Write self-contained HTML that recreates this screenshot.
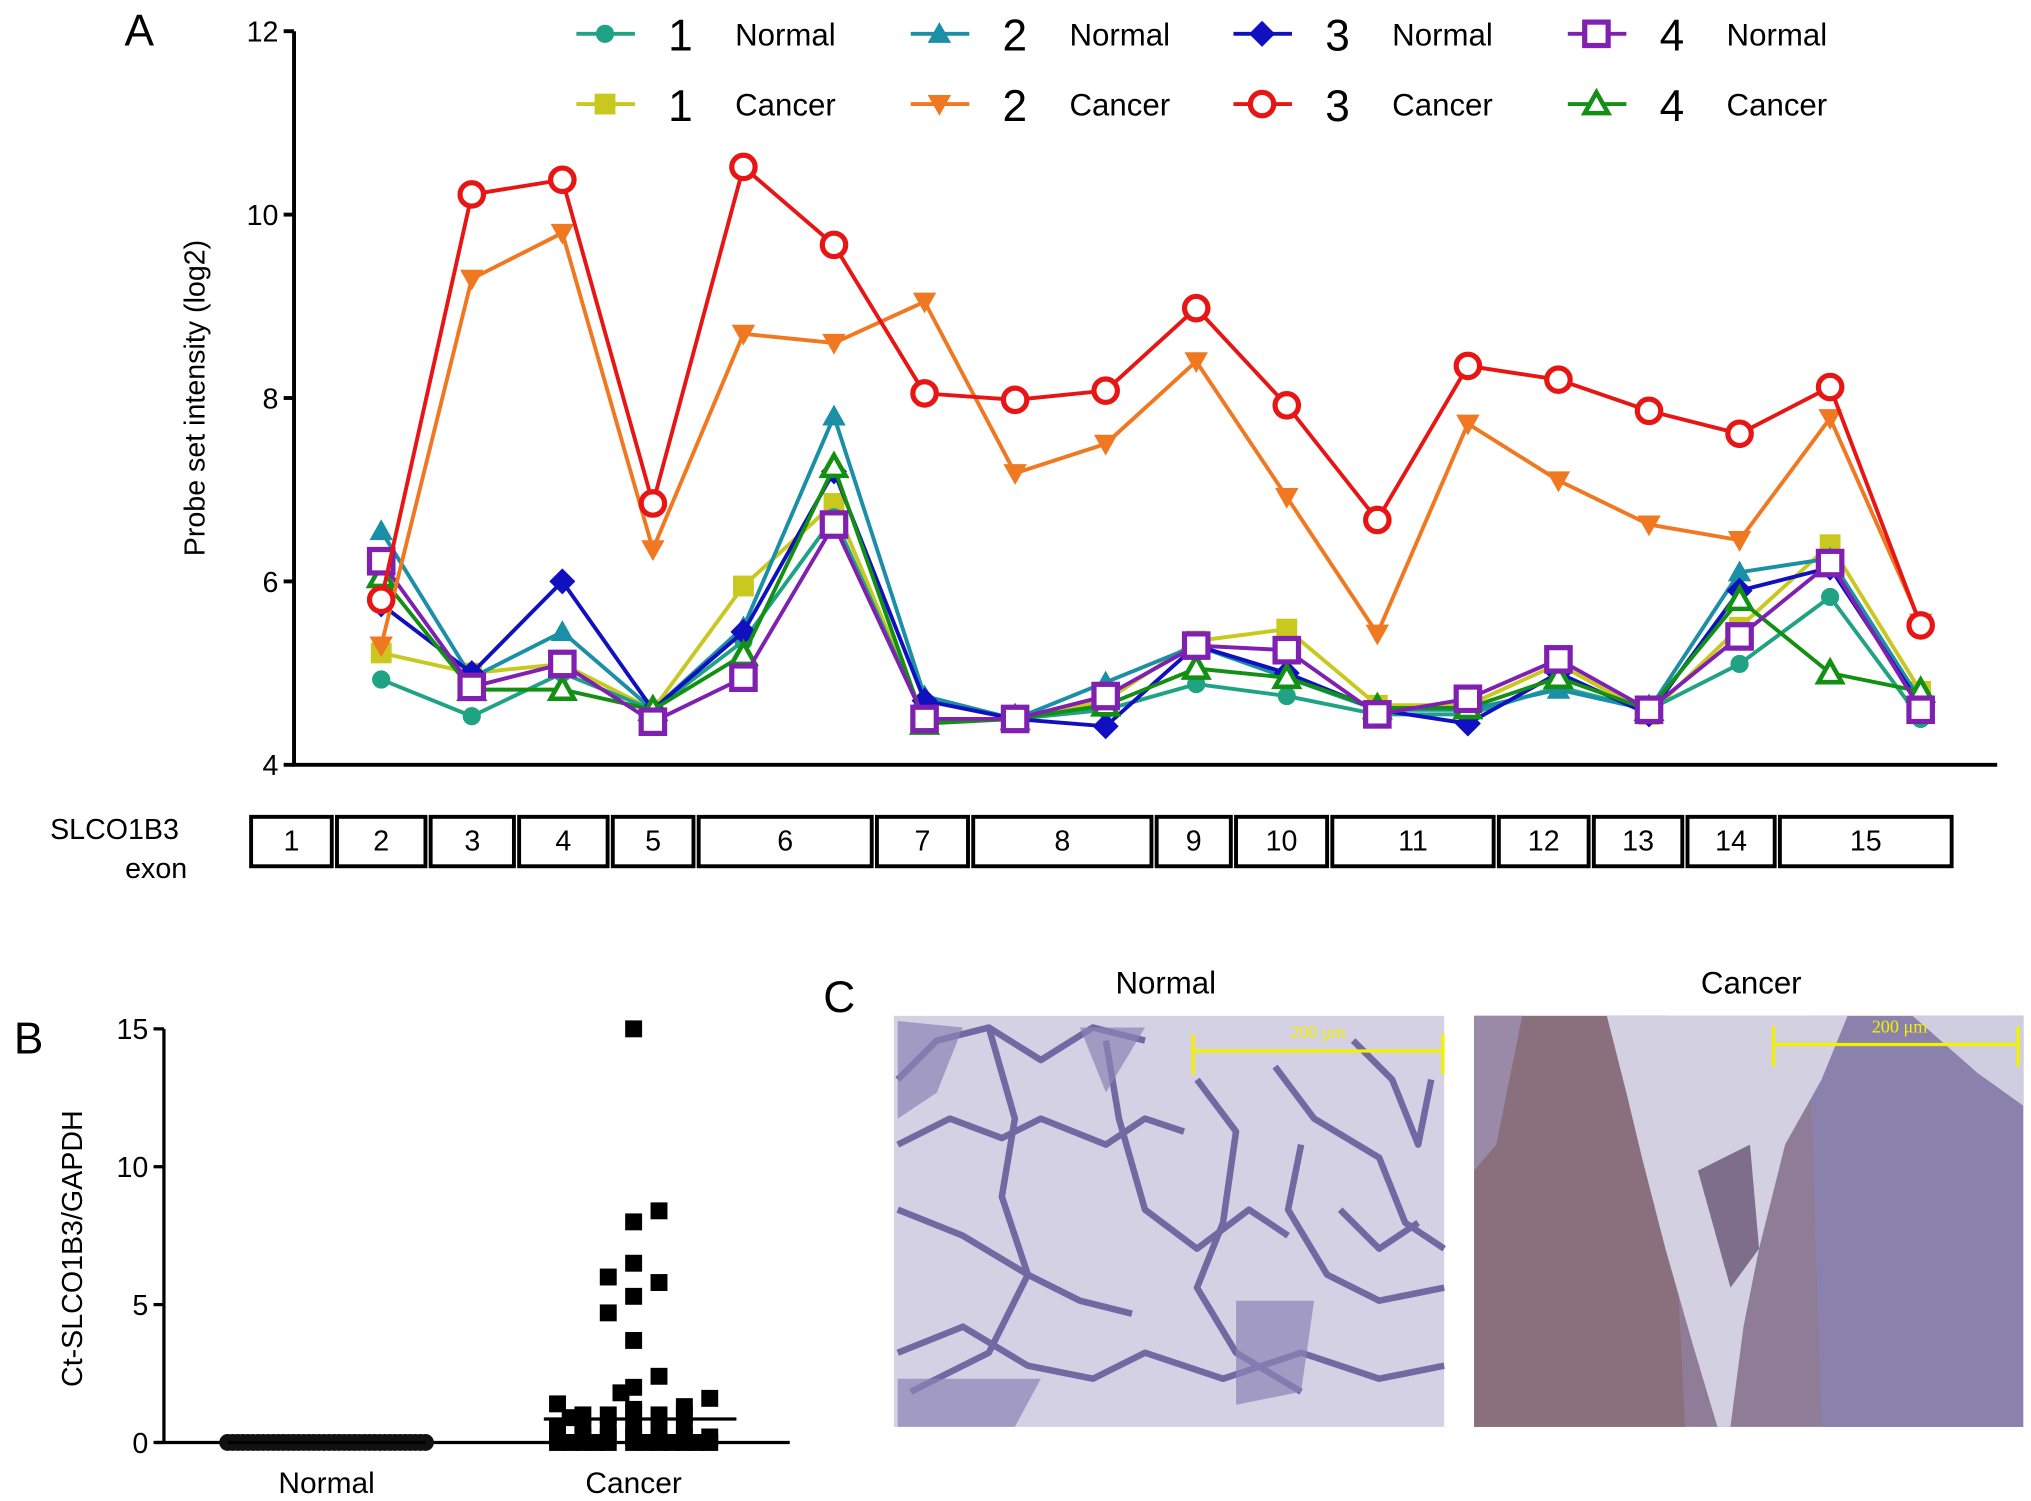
<!DOCTYPE html>
<html><head><meta charset="utf-8"><style>
html,body{margin:0;padding:0;background:#fff}
svg{display:block;font-family:"Liberation Sans",Arial,sans-serif}
</style></head><body>
<svg id="fig" width="2031" height="1501" viewBox="0 0 1561 1154" preserveAspectRatio="none" xmlns="http://www.w3.org/2000/svg">
<rect width="1561" height="1154" fill="#fff"/>
<g id="panelA"></g>
<g id="panelB"></g>
<g id="panelC">
  <text x="645" y="778" font-size="34" text-anchor="middle">C</text>
  <text x="896" y="764" font-size="24" text-anchor="middle">Normal</text>
  <text x="1346" y="764" font-size="24" text-anchor="middle">Cancer</text>
  <g>
    <rect x="687" y="781" width="423" height="316" fill="#d3d1e3"/>
    <g fill="none" stroke="#5b4f92" stroke-width="5" stroke-linejoin="round" opacity="0.8">
      <path d="M690 830 L720 800 L760 790 L800 815 L840 790 L880 800"/>
      <path d="M690 880 L730 860 L770 875 L800 860 L850 880 L880 860 L910 870"/>
      <path d="M760 790 L780 860 L770 920 L790 980 L760 1040 L700 1070"/>
      <path d="M690 930 L740 950 L790 980 L830 1000 L870 1010"/>
      <path d="M850 800 L860 860 L880 930 L920 960 L960 930 L990 950"/>
      <path d="M920 830 L950 870 L940 940 L920 990 L950 1040 L1000 1070"/>
      <path d="M980 820 L1010 860 L1060 890 L1080 940 L1110 960"/>
      <path d="M1000 880 L990 930 L1020 980 L1060 1000 L1110 990"/>
      <path d="M690 1040 L740 1020 L790 1050 L840 1060 L880 1040 L940 1060 L1000 1040 L1060 1060 L1110 1050"/>
      <path d="M1040 800 L1070 830 L1090 880 L1100 830"/>
      <path d="M1030 930 L1060 960 L1090 940"/>
    </g>
    <path d="M690 785 L740 790 L720 840 L690 860 Z M830 790 L880 790 L850 840 Z M950 1000 L1010 1000 L1000 1070 L950 1080 Z M690 1060 L800 1060 L780 1097 L690 1097 Z" fill="#8c84b6" opacity="0.7"/>
  </g>
  <g>
    <rect x="1133" y="781" width="422" height="316" fill="#8f7d98"/>
    <path d="M1133 781 L1280 781 L1295 1097 L1133 1097 Z" fill="#8a6f7c"/>
    <path d="M1390 781 L1555 781 L1555 1097 L1400 1097 Z" fill="#8a82ac"/>
    <path d="M1235 781 L1420 781 L1400 830 L1372 880 L1352 960 L1340 1020 L1330 1097 L1320 1097 L1300 1030 L1280 960 L1262 890 L1250 840 Z" fill="#d2d0e1"/>
    <path d="M1470 781 L1555 781 L1555 850 L1520 825 Z" fill="#cfcde0"/>
    <path d="M1133 781 L1170 781 L1150 880 L1133 900 Z" fill="#9a8aa8"/>
    <path d="M1305 900 L1345 880 L1352 960 L1330 990 Z" fill="#7f6d8c"/>
  </g>
  <g stroke="#f2f200" stroke-width="2.5">
    <line x1="917" y1="808" x2="1110" y2="808"/><line x1="917" y1="795" x2="917" y2="826"/><line x1="1109" y1="795" x2="1109" y2="826"/>
  </g>
  <text x="1013" y="798" font-size="14" fill="#f2f200" text-anchor="middle" font-family="Liberation Serif,serif">200 μm</text>
  <g stroke="#f2f200" stroke-width="2.5">
    <line x1="1363" y1="803" x2="1552" y2="803"/><line x1="1363" y1="789" x2="1363" y2="820"/><line x1="1551" y1="789" x2="1551" y2="820"/>
  </g>
  <text x="1460" y="794" font-size="14" fill="#f2f200" text-anchor="middle" font-family="Liberation Serif,serif">200 μm</text>
</g>
</svg>
<script>
// ---------- Panel A data ----------
const exonPoints = [1,2,3,4,5,6,7,8,9,10,11,12,13,14,15,16,17,18];
const n1 = [4.93,4.53,5.0,4.6,5.35,6.7,4.5,4.5,4.6,4.88,4.75,4.55,4.55,4.85,4.6,5.1,5.83,4.5];
const c1 = [5.22,5.0,5.1,4.6,5.95,6.85,4.5,4.5,4.7,5.35,5.48,4.65,4.65,5.1,4.55,5.5,6.4,4.8];
const n2 = [6.55,4.95,5.45,4.6,5.5,7.8,4.75,4.5,4.9,5.3,4.95,4.6,4.6,4.82,4.6,6.1,6.25,4.7];
const c2 = [5.3,9.3,9.8,6.35,8.7,8.6,9.05,7.18,7.5,8.4,6.92,5.43,7.72,7.1,6.62,6.45,7.78,5.55];
const n3 = [5.75,5.0,6.0,4.6,5.45,7.2,4.7,4.5,4.42,5.3,5.0,4.6,4.45,5.0,4.55,5.9,6.15,4.65];
const c3 = [5.8,10.22,10.38,6.85,10.52,9.67,8.05,7.98,8.08,8.98,7.92,6.67,8.35,8.2,7.86,7.61,8.12,5.52];
const n4 = [6.22,4.85,5.1,4.47,4.95,6.62,4.5,4.5,4.75,5.3,5.25,4.55,4.72,5.15,4.6,5.4,6.2,4.6];
const c4 = [6.05,4.82,4.82,4.6,5.2,7.25,4.45,4.5,4.65,5.05,4.95,4.62,4.62,4.95,4.6,5.8,5.0,4.8];
const yTicksA = [4,6,8,10,12];
const exonLabels = ["1","2","3","4","5","6","7","8","9","10","11","12","13","14","15"];
const exonBounds = [191,257,329,397,469,535,672,746,887,948,1022,1150,1223,1295,1366,1502];
// ---------- Panel B data ----------
const yTicksB = [0,5,10,15];
const groupsB = ["Normal","Cancer"];
const cancerVals = [15,8.4,8.0,6.5,6.0,5.8,5.3,4.7,3.7,2.4,2.0,1.8,1.6,1.4,1.3,1.0,1.0,1.1,1.0,0.9,1.2,1.0,0.6,0.6,0.5,0.5,0.6,0.5,0.2,0.2,0.2,0.2,0.2,0.2,0.2,0,0,0,0,0,0,0,0,0,0,0,0];
const cancerOffsets = [0,1,0,0,-1,1,0,-1,0,1,0,-0.5,3,-3,2,-2,-1,0,1,-2.5,0,2,-3,-1,1,2,0,-2,-3,-2,-1,0,1,2,3,-3,-2,-1,0,1,2,3,-2.5,-1.5,0.5,1.5,2.5];
const normalVals = Array(40).fill(0);
const cancerMean = 0.85;
</script>
<script>
const NS="http://www.w3.org/2000/svg";
function mk(tag, attrs, parent, txt){const e=document.createElementNS(NS,tag);for(const k in attrs)e.setAttribute(k,attrs[k]);if(txt!==undefined)e.textContent=txt;parent.appendChild(e);return e;}
const A=document.getElementById('panelA');
const xA=i=>293+(i-1)*69.6;
const yA=v=>588-(v-4)*70.5;
let t=mk('text',{x:107,y:35,'font-size':34,'text-anchor':'middle'},A,'A');


let ax=mk('path',{d:`M226 ${yA(12)} L226 ${yA(4)} L1535 ${yA(4)}`,fill:'none',stroke:'#000','stroke-width':3},A);


yTicksA.forEach(v=>{
  const tk=mk('line',{x1:218,x2:226,y1:yA(v),y2:yA(v),stroke:'#000','stroke-width':3},A);
  
  
  const lb=mk('text',{x:214,y:yA(v)+8,'font-size':22,'text-anchor':'end'},A,String(v));
  
  
});
t=mk('text',{x:157,y:306,'font-size':22,'text-anchor':'middle',transform:'rotate(-90 157 306)'},A,'Probe set intensity (log2)');


t=mk('text',{x:88,y:645,'font-size':22,'text-anchor':'middle'},A,'SLCO1B3');


t=mk('text',{x:120,y:675,'font-size':22,'text-anchor':'middle'},A,'exon');


exonLabels.forEach((l,i)=>{
  const x0=exonBounds[i]+2,x1=exonBounds[i+1]-2;
  const r=mk('rect',{x:x0,y:628,width:x1-x0,height:38,fill:'#fff',stroke:'#000','stroke-width':3},A);
  
  
  const tx=mk('text',{x:(x0+x1)/2,y:654,'font-size':22,'text-anchor':'middle'},A,l);
  
  
});
function marker(g,type,x,y,col){
  const s=8;
  if(type==='circle')return mk('circle',{cx:x,cy:y,r:7,fill:col},g);
  if(type==='square')return mk('rect',{x:x-s,y:y-s,width:2*s,height:2*s,fill:col},g);
  if(type==='tri')return mk('path',{d:`M${x} ${y-9} L${x+9} ${y+7} L${x-9} ${y+7}Z`,fill:col},g);
  if(type==='tridown')return mk('path',{d:`M${x} ${y+9} L${x+9} ${y-7} L${x-9} ${y-7}Z`,fill:col},g);
  if(type==='diamond')return mk('path',{d:`M${x} ${y-10} L${x+10} ${y} L${x} ${y+10} L${x-10} ${y}Z`,fill:col},g);
  if(type==='ocircle')return mk('circle',{cx:x,cy:y,r:9,fill:'#fff',stroke:col,'stroke-width':4},g);
  if(type==='osquare')return mk('rect',{x:x-9,y:y-9,width:18,height:18,fill:'#fff',stroke:col,'stroke-width':4},g);
  if(type==='otri')return mk('path',{d:`M${x} ${y-9} L${x+9} ${y+7} L${x-9} ${y+7}Z`,fill:'#fff',stroke:col,'stroke-width':3.5},g);
}
const series=[
 {d:c1,col:'#c8c81e',m:'square',name:'1-cancer'},
 {d:n1,col:'#1fa384',m:'circle',name:'1-normal'},
 {d:n2,col:'#1b8fa5',m:'tri',name:'2-normal'},
 {d:n3,col:'#1010c0',m:'diamond',name:'3-normal'},
 {d:c4,col:'#139013',m:'otri',name:'4-cancer'},
 {d:n4,col:'#8020b0',m:'osquare',name:'4-normal'},
 {d:c2,col:'#f07820',m:'tridown',name:'2-cancer'},
 {d:c3,col:'#e81515',m:'ocircle',name:'3-cancer'}
];
series.forEach(s=>{
  const g=mk('g',{},A);
  
  
  const pts=s.d.map((v,i)=>xA(exonPoints[i])+','+yA(v)).join(' ');
  const pl=mk('polyline',{points:pts,fill:'none',stroke:s.col,'stroke-width':3},g);
  
  
  s.d.forEach((v,i)=>{
    const m=marker(g,s.m,xA(exonPoints[i]),yA(v),s.col);
    
    
  });
});
const leg=[
 {x:443,y:26,n:'1',l:'Normal',m:'circle',col:'#1fa384'},
 {x:700,y:26,n:'2',l:'Normal',m:'tri',col:'#1b8fa5'},
 {x:948,y:26,n:'3',l:'Normal',m:'diamond',col:'#1010c0'},
 {x:1205,y:26,n:'4',l:'Normal',m:'osquare',col:'#8020b0'},
 {x:443,y:80,n:'1',l:'Cancer',m:'square',col:'#c8c81e'},
 {x:700,y:80,n:'2',l:'Cancer',m:'tridown',col:'#f07820'},
 {x:948,y:80,n:'3',l:'Cancer',m:'ocircle',col:'#e81515'},
 {x:1205,y:80,n:'4',l:'Cancer',m:'otri',col:'#139013'}
];
leg.forEach(e=>{
  const g=mk('g',{},A);
  
  
  mk('line',{x1:e.x,x2:e.x+45,y1:e.y,y2:e.y,stroke:e.col,'stroke-width':3},g);
  marker(g,e.m,e.x+22,e.y,e.col);
  mk('text',{x:e.x+80,y:e.y+13,'font-size':34,'text-anchor':'middle'},g,e.n);
  mk('text',{x:e.x+122,y:e.y+9,'font-size':24},g,e.l);
});
// ---------- Panel B ----------
const B=document.getElementById('panelB');
const yB=v=>1109-v*21.2;
const xB={Normal:251,Cancer:487};
t=mk('text',{x:22,y:810,'font-size':34,'text-anchor':'middle'},B,'B');


ax=mk('path',{d:`M126 ${yB(15)} L126 ${yB(0)} M120 ${yB(0)} L607 ${yB(0)}`,fill:'none',stroke:'#000','stroke-width':2.5},B);


yTicksB.forEach(v=>{
  const tk=mk('line',{x1:118,x2:126,y1:yB(v),y2:yB(v),stroke:'#000','stroke-width':2.5},B);
  
  
  const lb=mk('text',{x:114,y:yB(v)+8,'font-size':22,'text-anchor':'end'},B,String(v));
  
  
});
t=mk('text',{x:63,y:960,'font-size':22,'text-anchor':'middle',transform:'rotate(-90 63 960)'},B,'Ct-SLCO1B3/GAPDH');


groupsB.forEach(gn=>{
  const lb=mk('text',{x:xB[gn],y:1148,'font-size':23,'text-anchor':'middle'},B,gn);
  
  
});
normalVals.forEach((v,i)=>{
  const x=xB.Normal-76+i*(152/(normalVals.length-1));
  const c=mk('circle',{cx:x,cy:yB(v),r:6.5,fill:'#111'},B);
  
  
});
cancerVals.forEach((v,i)=>{
  const x=xB.Cancer+cancerOffsets[i]*19.5;
  const r=mk('rect',{x:x-6.5,y:yB(v)-6.5,width:13,height:13,fill:'#000'},B);
  
  
});
const ml=mk('line',{x1:418,x2:566,y1:yB(cancerMean),y2:yB(cancerMean),stroke:'#000','stroke-width':2.5},B);


const nl=mk('line',{x1:175,x2:327,y1:yB(0),y2:yB(0),stroke:'#000','stroke-width':2.5},B);


</script>
</body></html>
